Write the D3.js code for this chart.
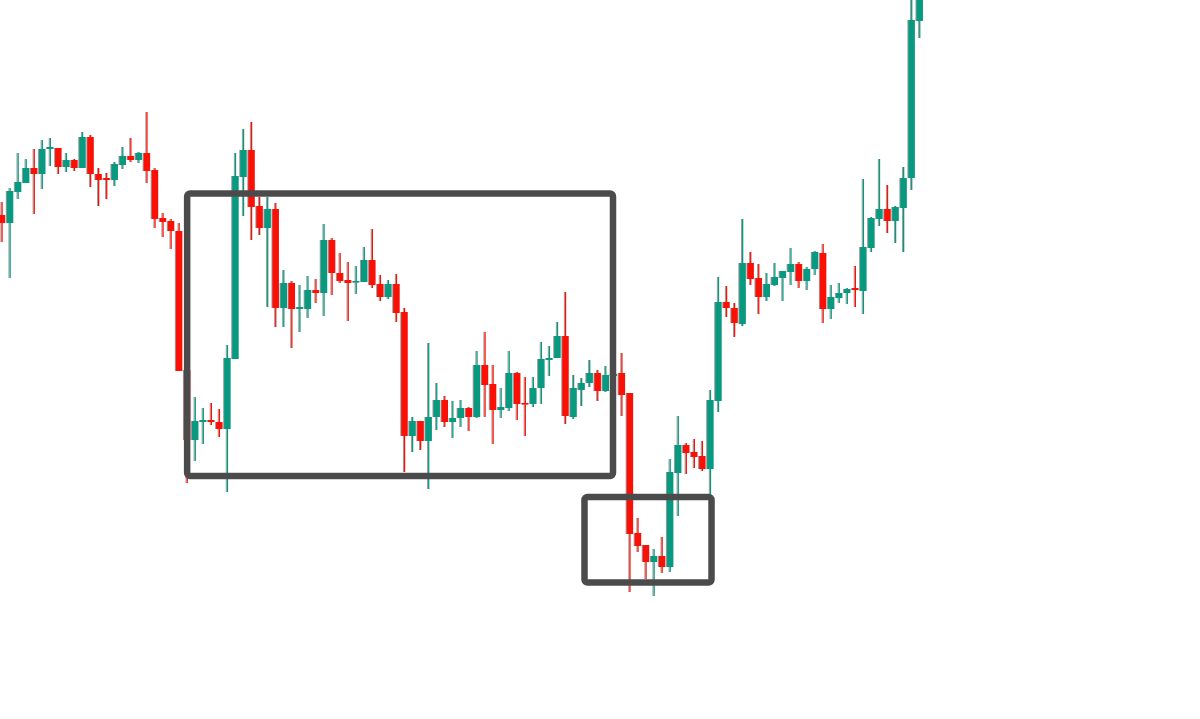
<!DOCTYPE html>
<html>
<head>
<meta charset="utf-8">
<script src="https://cdn.jsdelivr.net/npm/d3@7/dist/d3.min.js"></script>
<style>
  html, body { margin: 0; padding: 0; background: #ffffff; }
  svg { display: block; }
</style>
</head>
<body>
<svg id="chart" width="1200" height="719"></svg>
<script>
// ---- data (candle index, OHLC) ----
const openVals = [785,777,808,817,832,826,851,852,833,840,832,863,826,822,820,835,844,840,847,830,
  782,779,769,630,560,578,580,578,571,641,823,850,794,772,791,692,717,691,691,710,
  707,760,727,720,718,718,740,716,703,716,688,564,579,559,583,600,578,582,592,583,
  635,616,590,592,627,597,596,612,640,642,664,583,610,617,627,609,624,627,607,467,
  455,438,444,433,527,555,548,544,531,599,698,692,676,737,722,703,715,722,728,736,
  719,731,747,691,702,707,712,709,752,781,791,779,792,822,979];
const highVals = [798,812,847,841,851,860,862,852,847,841,868,865,832,827,838,853,862,848,888,832,
  787,781,777,630,603,592,597,591,655,847,871,878,803,803,797,730,719,715,724,721,
  776,762,747,738,734,753,771,725,720,726,692,583,579,657,617,604,599,600,593,649,
  668,635,612,649,628,623,623,658,654,678,708,625,622,640,630,634,630,647,607,482,
  455,451,463,541,584,557,561,559,610,723,714,697,781,748,736,727,737,729,752,738,
  733,749,756,715,717,712,734,821,783,841,815,794,833,1005,1020];
const lowVals = [758,722,801,817,786,811,834,826,828,829,832,813,794,801,814,831,838,837,817,772,
  763,751,629,517,539,556,575,563,508,641,784,760,765,693,673,673,652,668,682,697,
  684,705,717,679,706,718,712,699,701,678,528,548,550,511,570,573,562,573,569,582,
  583,556,582,589,580,564,593,596,624,642,576,581,594,613,599,608,618,584,408,448,
  421,404,427,428,484,526,532,529,503,588,683,663,674,715,686,699,714,699,715,712,
  710,725,677,681,697,696,693,686,748,774,767,757,748,810,962];
const closeVals = [777,809,818,832,826,851,853,833,840,832,863,826,820,820,836,844,840,847,829,781,
  778,769,629,560,579,580,578,571,642,824,850,793,772,791,692,717,691,693,710,707,
  760,727,719,717,719,740,715,703,716,687,564,579,559,583,600,578,582,592,583,635,
  615,590,593,627,596,596,612,641,642,664,584,612,617,627,609,625,626,605,466,454,
  438,444,433,528,555,547,543,531,600,698,692,677,737,721,703,716,723,729,736,719,
  731,748,691,703,707,711,710,753,782,791,779,793,822,980,1010];

// annotation boxes in data units (candle index / price)
const boxStart  = [23, 72.36];
const boxEnd    = [75.9, 88.14];
const boxTop    = [806.5, 503];
const boxBottom = [524, 417.5];

// ---- build ----
const candles = openVals.map((o, i) => ({
  i, open: o, high: highVals[i], low: lowVals[i], close: closeVals[i]
}));

const W = 1200, H = 719;
const svg = d3.select("#chart");

const x = d3.scaleLinear().domain([0, 114]).range([2, 919.7]);
const y = d3.scaleLinear().domain([281, 1000]).range([H, 0]);

const UP = "#089981", DOWN = "#fb1005", SHADOW = "#9c9c9c";
const bodyW = 6.5;

const g = svg.append("g");

const c = g.selectAll("g.candle").data(candles).enter().append("g").attr("class", "candle");
const col = d => d.close >= d.open ? UP : DOWN;

// wick shadow
c.append("rect")
  .attr("x", d => x(d.i) - 1.6)
  .attr("width", 1)
  .attr("y", d => y(d.high))
  .attr("height", d => Math.max(0.5, y(d.low) - y(d.high)))
  .attr("fill", SHADOW);
// wick
c.append("rect")
  .attr("x", d => x(d.i) - 0.6)
  .attr("width", 1.3)
  .attr("y", d => y(d.high))
  .attr("height", d => Math.max(0.5, y(d.low) - y(d.high)))
  .attr("fill", col);
// body shadow
c.append("rect")
  .attr("x", d => x(d.i) - bodyW / 2 - 1)
  .attr("width", bodyW)
  .attr("y", d => y(Math.max(d.open, d.close)))
  .attr("height", d => Math.max(1.5, Math.abs(y(d.open) - y(d.close))))
  .attr("fill", SHADOW);
// body
c.append("rect")
  .attr("x", d => x(d.i) - bodyW / 2)
  .attr("width", bodyW)
  .attr("y", d => y(Math.max(d.open, d.close)))
  .attr("height", d => Math.max(1.5, Math.abs(y(d.open) - y(d.close))))
  .attr("fill", col);

// annotation boxes
const boxes = boxStart.map((s, k) => ({ s, e: boxEnd[k], t: boxTop[k], b: boxBottom[k] }));
svg.append("g").selectAll("rect").data(boxes).enter().append("rect")
  .attr("x", d => x(d.s))
  .attr("y", d => y(d.t))
  .attr("width", d => x(d.e) - x(d.s))
  .attr("height", d => y(d.b) - y(d.t))
  .attr("rx", 3).attr("ry", 3)
  .attr("fill", "none")
  .attr("stroke", "#4b4b4b")
  .attr("stroke-width", 6.5);
</script>
</body>
</html>
